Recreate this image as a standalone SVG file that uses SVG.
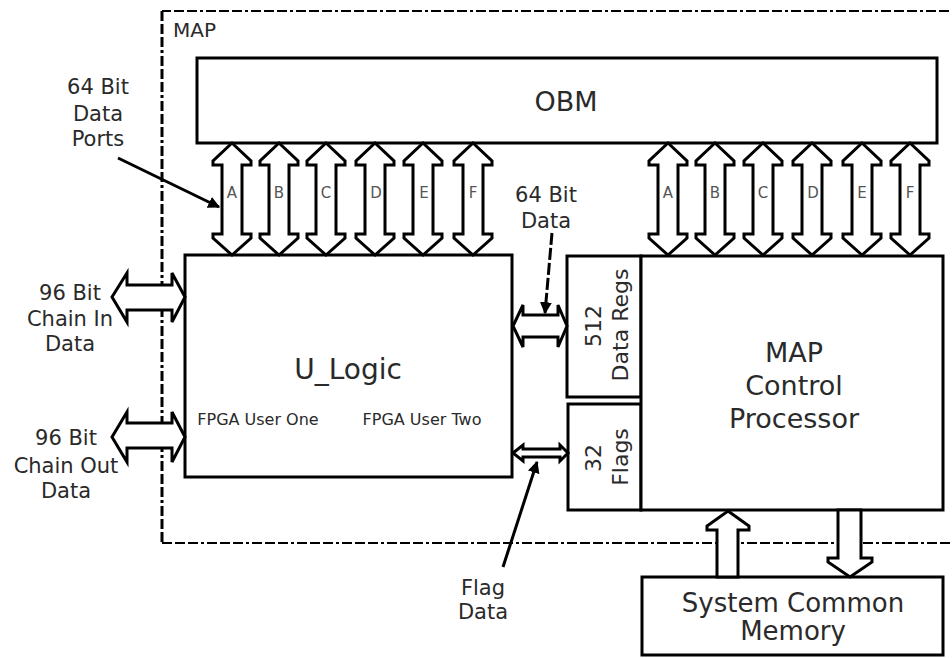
<svg xmlns="http://www.w3.org/2000/svg" width="952" height="658" viewBox="0 0 952 658">
<style>
.box{fill:#fff;stroke:#000;stroke-width:3}
.t{font-family:"DejaVu Sans",Verdana,sans-serif;fill:#2a2a2a}
.arr{fill:#fff;stroke:#000;stroke-width:3;stroke-linejoin:miter}
.lt{font-family:"DejaVu Sans",Verdana,sans-serif;fill:#555;font-size:15px;text-anchor:middle}
.ptr{stroke:#000;stroke-width:3;fill:none}
</style>
<defs>
<polygon id="vport" points="0,143 19,161 19,165 10,165 10,234 19,234 19,238 0,255 -19,238 -19,234 -10,234 -10,165 -19,165 -19,161"/>
<marker id="ah" viewBox="0 0 10 10" refX="9" refY="5" markerWidth="4" markerHeight="4" orient="auto" markerUnits="strokeWidth">
<path d="M0,0 L10,5 L0,10 z" fill="#000"/>
</marker>
</defs>
<rect width="952" height="658" fill="#fff"/>

<g id="map-boundary">
<path d="M962 11 H162" fill="none" stroke="#000" stroke-width="2" stroke-dasharray="10 3 10 3 10 3 3 3"/>
<path d="M162 543 H962" fill="none" stroke="#000" stroke-width="2" stroke-dasharray="10 3 10 3 10 3 3 3"/>
<path d="M162 11 V543" fill="none" stroke="#000" stroke-width="3" stroke-dasharray="10 3 10 3 10 3 3 3"/>
<text class="t" x="173" y="37" font-size="20">MAP</text>
</g>

<g id="obm">
<rect class="box" x="197" y="58" width="740" height="85"/>
<text class="t" x="566" y="111" font-size="27" text-anchor="middle">OBM</text>
</g>

<g id="u-logic">
<rect class="box" x="185" y="255" width="327" height="222"/>
<text class="t" x="348" y="379" font-size="28" text-anchor="middle">U_Logic</text>
<text class="t" x="258" y="425" font-size="16" text-anchor="middle">FPGA User One</text>
<text class="t" x="422" y="425" font-size="16" text-anchor="middle">FPGA User Two</text>
</g>

<g id="data-regs">
<rect class="box" x="567" y="256" width="74" height="141"/>
<text class="t" font-size="22" text-anchor="middle" transform="translate(601 326) rotate(-90)">512</text>
<text class="t" font-size="22" text-anchor="middle" transform="translate(628 325) rotate(-90)">Data Regs</text>
</g>

<g id="flags">
<rect class="box" x="568" y="404" width="73" height="106"/>
<text class="t" font-size="22" text-anchor="middle" transform="translate(601 458) rotate(-90)">32</text>
<text class="t" font-size="22" text-anchor="middle" transform="translate(628 457) rotate(-90)">Flags</text>
</g>

<g id="map-control-processor">
<rect class="box" x="641" y="256" width="302" height="254"/>
<text class="t" x="794" y="362" font-size="27" text-anchor="middle">MAP</text>
<text class="t" x="794" y="395" font-size="27" text-anchor="middle">Control</text>
<text class="t" x="794" y="428" font-size="27" text-anchor="middle">Processor</text>
</g>

<g id="system-common-memory">
<rect class="box" x="642" y="577" width="301" height="78"/>
<text class="t" x="793" y="612" font-size="26" text-anchor="middle">System Common</text>
<text class="t" x="793" y="640" font-size="26" text-anchor="middle">Memory</text>
</g>

<g id="connectors">
<use href="#vport" class="arr" x="232"/>
<use href="#vport" class="arr" x="279"/>
<use href="#vport" class="arr" x="326"/>
<use href="#vport" class="arr" x="375"/>
<use href="#vport" class="arr" x="423"/>
<use href="#vport" class="arr" x="473"/>
<use href="#vport" class="arr" x="668"/>
<use href="#vport" class="arr" x="715"/>
<use href="#vport" class="arr" x="763"/>
<use href="#vport" class="arr" x="812"/>
<use href="#vport" class="arr" x="862"/>
<use href="#vport" class="arr" x="910"/>
<text class="lt" x="232" y="198">A</text>
<text class="lt" x="279" y="198">B</text>
<text class="lt" x="326" y="198">C</text>
<text class="lt" x="376" y="198">D</text>
<text class="lt" x="424" y="198">E</text>
<text class="lt" x="473" y="198">F</text>
<text class="lt" x="668" y="198">A</text>
<text class="lt" x="715" y="198">B</text>
<text class="lt" x="763" y="198">C</text>
<text class="lt" x="813" y="198">D</text>
<text class="lt" x="862" y="198">E</text>
<text class="lt" x="910" y="198">F</text>

<polygon class="arr" points="112,297 127,273 127,285 172,285 172,273 185,297 172,322 172,310 127,310 127,322"/>
<polygon class="arr" points="112,437 127,412 127,423 172,423 172,412 185,437 172,462 172,448 127,448 127,462"/>
<polygon class="arr" points="513,326 523,305 523,315 558,315 558,305 567,326 558,347 558,337 523,337 523,347"/>
<polygon class="arr" stroke-width="2" points="513,453 523,445 523,449 560,449 560,445 568,453 560,461 560,457 523,457 523,461"/>
<polygon class="arr" points="728,511 749,526 749,530 738,530 738,577 717,577 717,530 707,530 707,526"/>
<polygon class="arr" points="838,510 861,510 861,558 872,558 872,562 850,577 828,562 828,558 838,558"/>

<line class="ptr" x1="118" y1="158" x2="219" y2="207" marker-end="url(#ah)"/>
<line class="ptr" x1="552" y1="233" x2="545" y2="313" stroke-dasharray="12 3" marker-end="url(#ah)"/>
<line class="ptr" x1="503" y1="567" x2="537" y2="462" marker-end="url(#ah)"/>
</g>

<g id="labels">
<text class="t" font-size="21" text-anchor="middle"><tspan x="98" y="94">64 Bit</tspan><tspan x="98" y="121">Data</tspan><tspan x="98" y="146">Ports</tspan></text>
<text class="t" font-size="21" text-anchor="middle"><tspan x="546" y="202">64 Bit</tspan><tspan x="546" y="228">Data</tspan></text>
<text class="t" font-size="21" text-anchor="middle"><tspan x="70" y="300">96 Bit</tspan><tspan x="70" y="326">Chain In</tspan><tspan x="70" y="351">Data</tspan></text>
<text class="t" font-size="21" text-anchor="middle"><tspan x="66" y="445">96 Bit</tspan><tspan x="66" y="473">Chain Out</tspan><tspan x="66" y="498">Data</tspan></text>
<text class="t" font-size="21" text-anchor="middle"><tspan x="483" y="595">Flag</tspan><tspan x="483" y="619">Data</tspan></text>
</g>
</svg>
